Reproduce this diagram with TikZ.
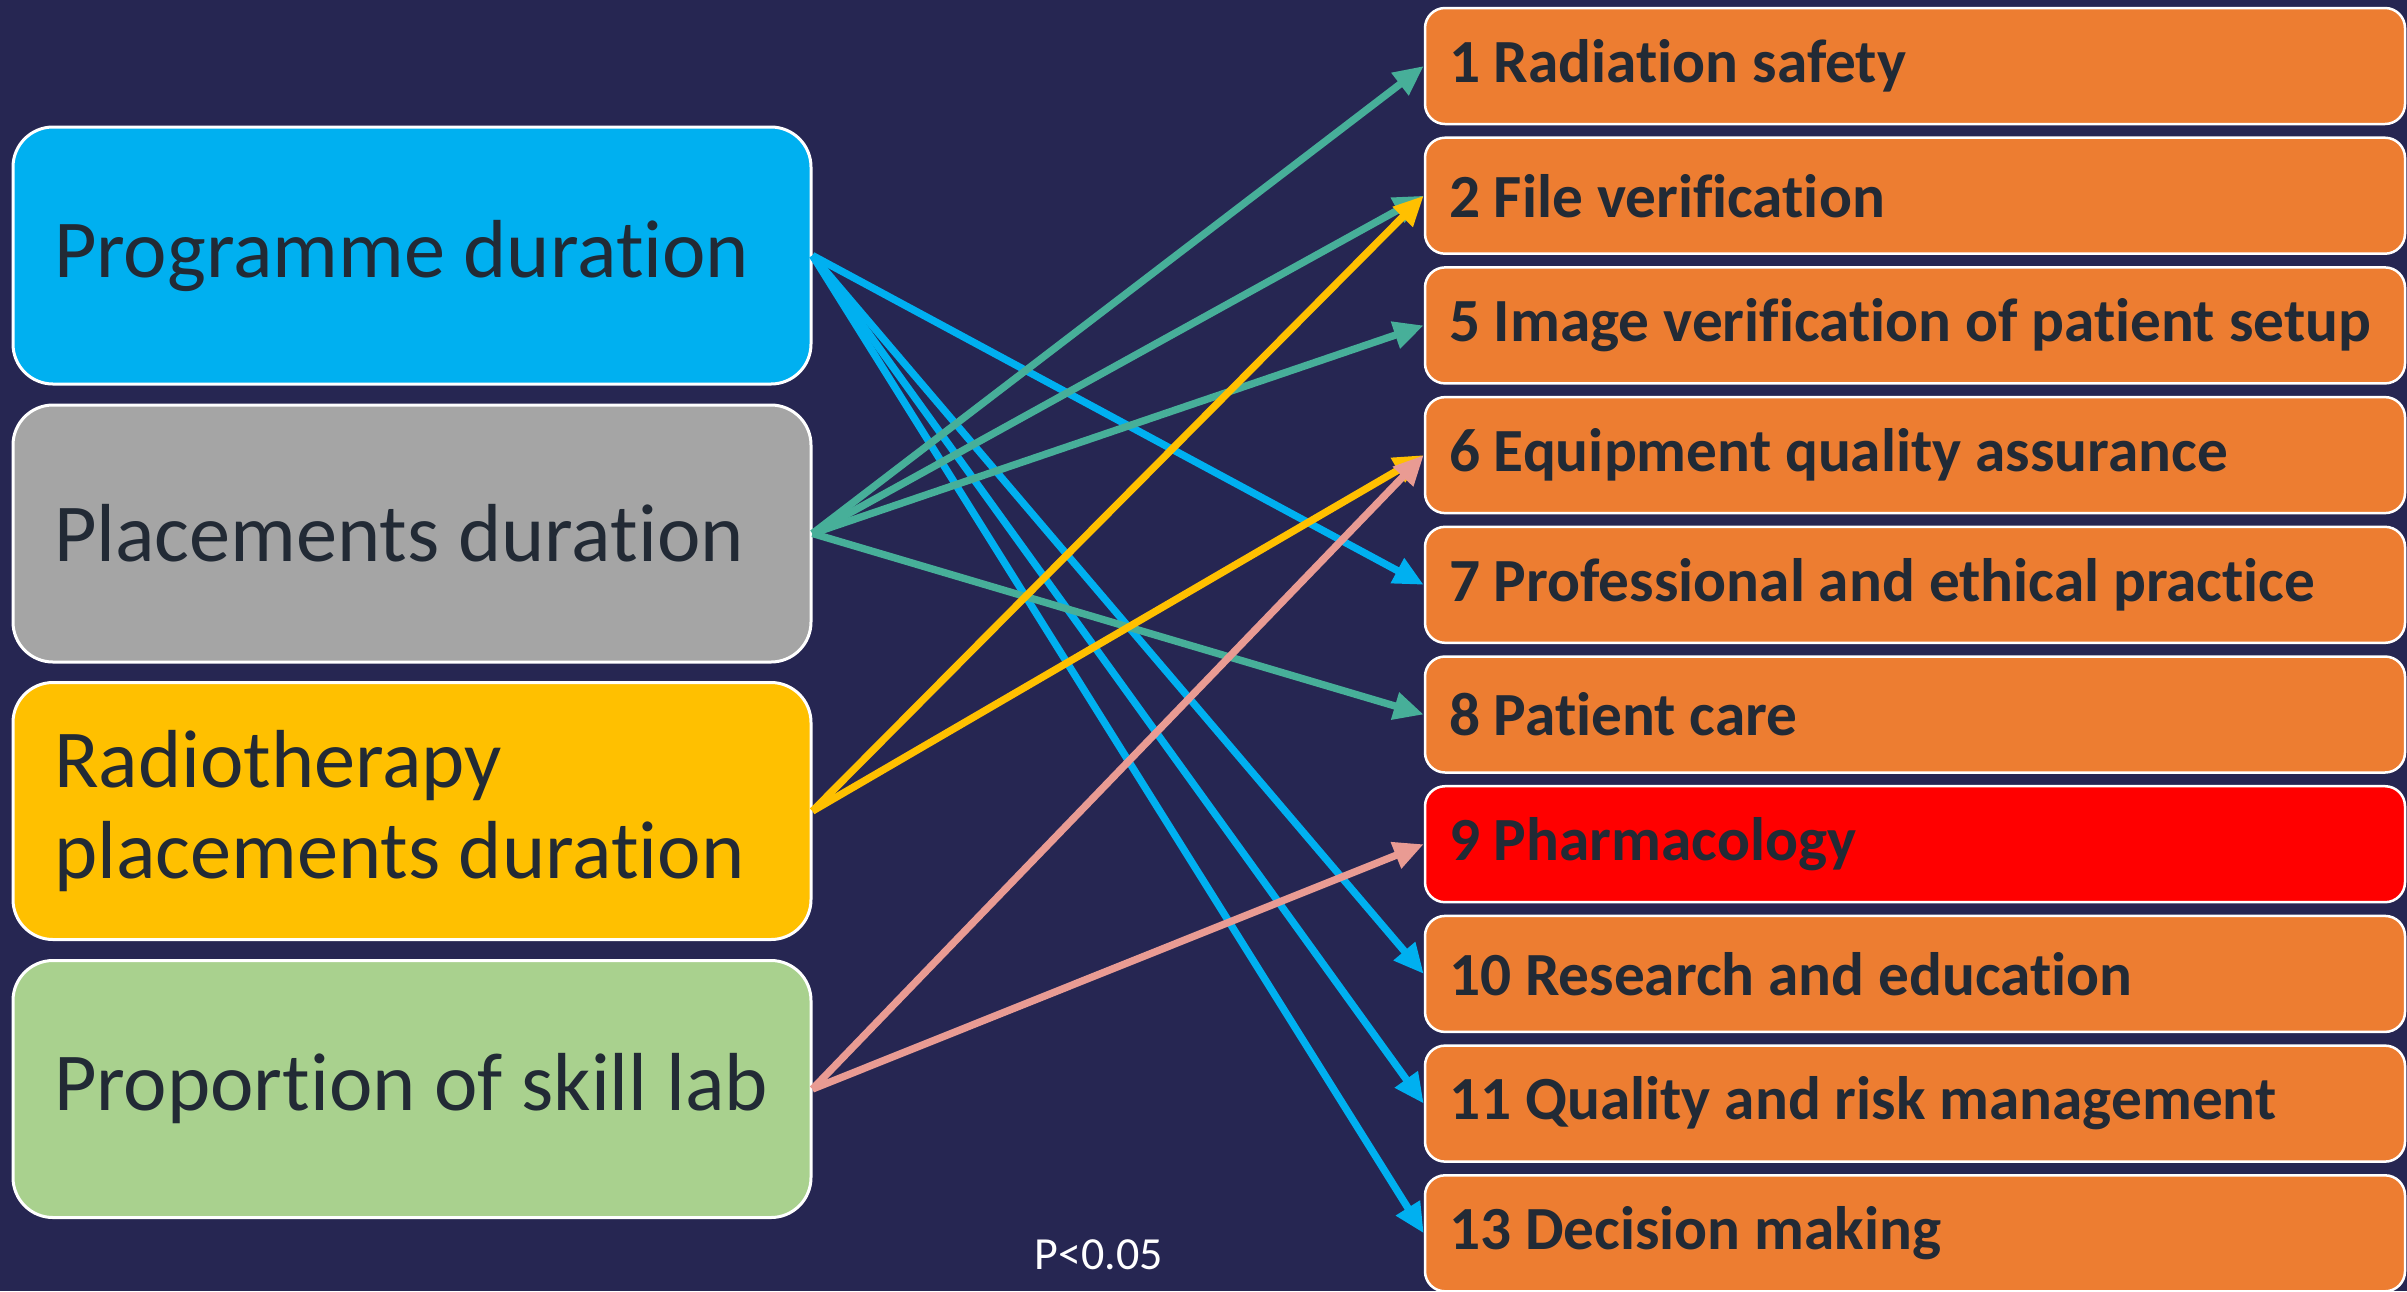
\documentclass[tikz,border=0pt]{standalone}
\usepackage{fontspec}
\setmainfont[Ligatures={NoCommon}]{Carlito}
\usepackage{xcolor}
\usetikzlibrary{arrows.meta,positioning}

\definecolor{bgnavy}{HTML}{262652}
\definecolor{txtdark}{HTML}{222A35}
\definecolor{progblue}{HTML}{00B0F0}
\definecolor{placegrey}{HTML}{A5A5A5}
\definecolor{radgold}{HTML}{FFC000}
\definecolor{skillgreen}{HTML}{A9D18E}
\definecolor{compor}{HTML}{ED7D31}
\definecolor{compred}{HTML}{FF0000}
\definecolor{tealarr}{HTML}{47AF99}
\definecolor{pinkarr}{HTML}{E99B93}

\tikzset{
  factorbox/.style={draw=white, line width=0.9pt, rounded corners=12pt,
    text width=214.8pt, inner xsep=12.3pt, minimum height=77.1pt,
    align=flush left, text=txtdark, font=\fontsize{24.7}{27.3}\selectfont},
  compbox/.style={draw=white, line width=0.75pt, rounded corners=6pt,
    text width=279.6pt, inner xsep=7.2pt, minimum height=34.8pt,
    align=flush left, text=txtdark, font=\fontsize{18.4}{20}\selectfont\bfseries},
  link/.style={line width=2.2pt, -{Triangle[length=9pt,width=8pt]}}
}

\begin{document}
\begin{tikzpicture}[x=0.3pt,y=-0.3pt]
    % Background
    \fill[bgnavy] (0,0) rectangle (2407,1291);
    \useasboundingbox (0,0) rectangle (2407,1291);

    % Factors (left)
    \node[factorbox, fill=progblue]   (prog)  at (412,255.5) {Programme duration};
    \node[factorbox, fill=placegrey]  (place) at (412,533.5) {Placements duration};
    \node[factorbox, fill=radgold]    (radio) at (412,811)   {Radiotherapy\\placements duration};
    \node[factorbox, fill=skillgreen] (skill) at (412,1089)  {Proportion of skill lab};

    % Competencies (right)
    \foreach \n/\t/\c [count=\i from 0] in {
        1/Radiation safety/compor,
        2/File verification/compor,
        5/Image verification of patient setup/compor,
        6/Equipment quality assurance/compor,
        7/Professional and ethical practice/compor,
        8/Patient care/compor,
        9/Pharmacology/compred,
        10/Research and education/compor,
        11/Quality and risk management/compor,
        13/Decision making/compor} {
        \node[compbox, fill=\c] (c\n) at (1915,66+\i*129.7) {\n\ \t};
    }

    % Links
    \foreach \k in {7,10,11,13} {
        \draw[link, progblue] (prog.east) -- (c\k.west);
    }
    \foreach \k in {1,2,5,8} {
        \draw[link, tealarr] (place.east) -- (c\k.west);
    }
    \foreach \k in {2,6} {
        \draw[link, radgold] (radio.east) -- (c\k.west);
    }
    \foreach \k in {6,9} {
        \draw[link, pinkarr] (skill.east) -- (c\k.west);
    }

    % Significance
    \node[text=white, font=\fontsize{13.8}{15}\selectfont, anchor=base] (sig) at (1099,1269) {P<0.05};
\end{tikzpicture}
\end{document}
